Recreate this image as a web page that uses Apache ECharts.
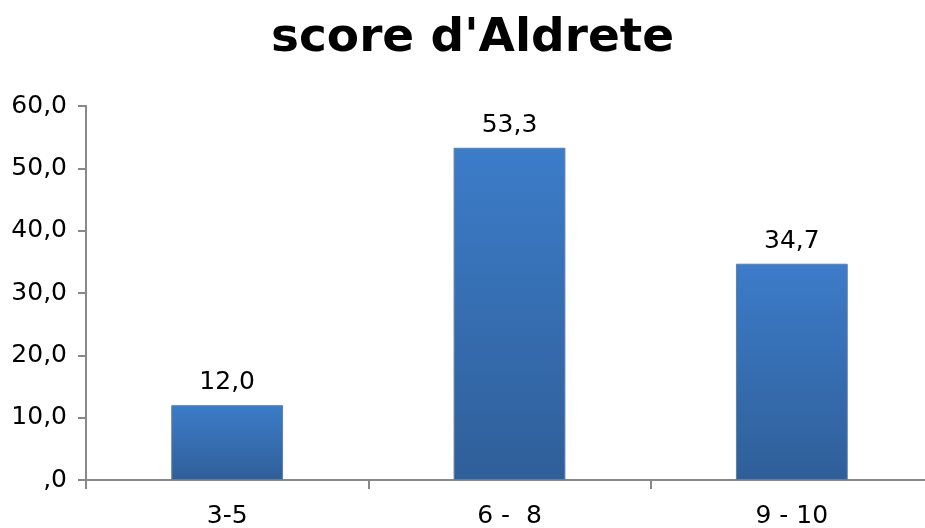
<!DOCTYPE html>
<html>
<head>
<meta charset="utf-8">
<script src="https://cdn.jsdelivr.net/npm/echarts@6/dist/echarts.min.js"></script>
<style>
  html, body { margin: 0; padding: 0; background: #fff; }
  #chart { width: 925px; height: 528px; }
</style>
</head>
<body>
<div id="chart"></div>
<script>
// données du graphique
const categories = ['3-5', '6 -  8', '9 - 10'];
const values = [12.0, 53.3, 34.7];
const yTicks = [0, 10, 20, 30, 40, 50, 60];

function fmt(v) {
  // format Excel "#,0" : 0 s'affiche ",0"
  if (v === 0) return ',0';
  return v.toFixed(1).replace('.', ',');
}

const chart = echarts.init(document.getElementById('chart'));
chart.setOption({
  animation: false,
  textStyle: { fontFamily: 'DejaVu Sans' },
  title: {
    text: "score d'Aldrete",
    left: 266,
    top: 10,
    textStyle: { fontSize: 47, fontWeight: 'bold', color: '#000', fontFamily: 'DejaVu Sans' }
  },
  grid: { left: 86, width: 847, top: 106, bottom: 48, outerBoundsMode: 'none' },
  xAxis: {
    type: 'category',
    data: categories,
    axisLine: { lineStyle: { color: '#888', width: 2 } },
    axisTick: { show: true, length: 9, alignWithLabel: false, lineStyle: { color: '#888', width: 2 } },
    axisLabel: { color: '#000', fontSize: 25, margin: 24 }
  },
  yAxis: {
    type: 'value',
    min: yTicks[0],
    max: yTicks[yTicks.length - 1],
    interval: 10,
    splitLine: { show: false },
    axisLine: { show: true, lineStyle: { color: '#888', width: 2 } },
    axisTick: { show: true, length: 8, lineStyle: { color: '#888', width: 2 } },
    axisLabel: { color: '#000', fontSize: 25, margin: 19, formatter: fmt }
  },
  series: [{
    type: 'bar',
    data: values,
    barWidth: '39.6%',
    itemStyle: {
      color: new echarts.graphic.LinearGradient(0, 0, 0, 1, [
        { offset: 0, color: '#3c7cc9' },
        { offset: 1, color: '#2f5f99' }
      ]),
      borderColor: '#5f7fa6',
      borderWidth: 1
    },
    label: {
      show: true,
      position: 'top',
      distance: 10,
      color: '#000',
      fontSize: 25,
      formatter: p => fmt(p.value)
    }
  }]
});
</script>
</body>
</html>
